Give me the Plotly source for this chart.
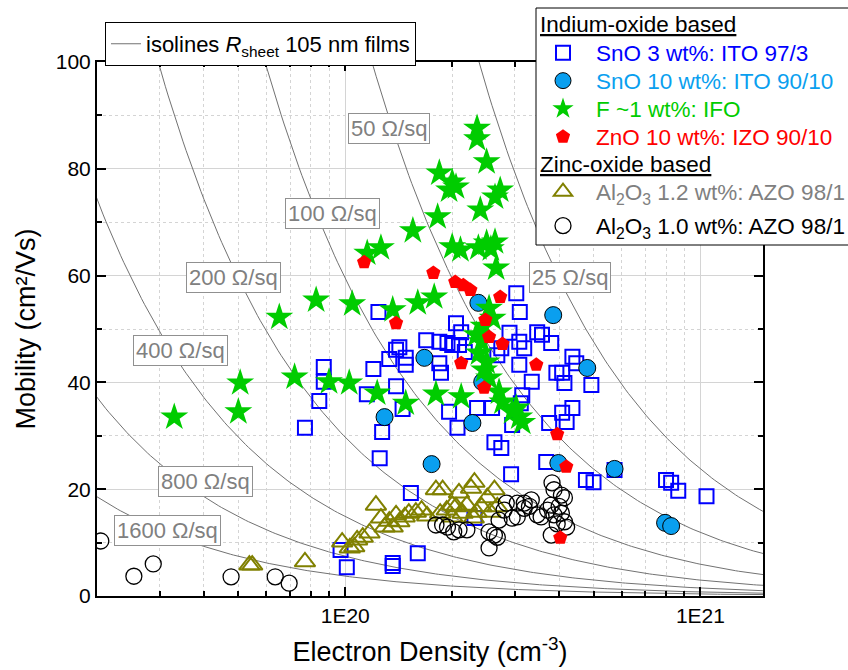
import numpy as np
import plotly.graph_objects as go

# ---------------- data (electron density in 1E20 cm^-3, mobility in cm^2/Vs) ----------------
ito_97_3 = [(0.77,31.5),(0.845,36.5),(0.87,40.1),(0.87,42.9),(1.15,37.8),(1.2,42.5),(1.24,53.2),(1.25,25.8),
            (1.27,30.7),(1.33,44.4),(1.39,39.3),(1.39,46.1),(1.42,46.6),(1.45,35.0),(1.48,44.6),(1.48,43.3),
            (1.53,19.3),(0.97,8.6),(1.01,5.4),(1.36,6.2),(1.36,5.6),(1.6,8.0),(1.69,47.9),(1.84,47.6),
            (1.94,47.4),(2.0,47.0),(1.84,43.6),(1.86,41.8),(2.05,51.1),(1.96,34.5),(2.07,31.5),(3.03,56.7),
            (3.1,53.2),(2.9,49.3),(3.09,47.6),(3.19,46.4),(3.47,49.4),(3.58,48.9),(3.8,47.4),(2.75,46.4),
            (2.68,45.1),(2.12,49.4),(2.09,47.0),(2.17,45.7),(3.09,43.3),(3.35,40.1),(3.93,41.8),(4.08,41.8),
            (4.14,39.9),(4.36,44.8),(4.47,43.6),(4.93,39.5),(3.15,37.6),(3.12,36.1),(2.35,35.2),(2.59,35.2),
            (2.95,32.0),(3.75,32.4),(4.08,34.3),(4.36,35.2),(4.2,32.6),(2.63,28.8),(2.75,27.7),(3.68,25.1),
            (2.93,22.8),(4.76,21.7),(5.0,21.3),(8.0,21.7),(8.27,21.2),(8.66,19.7),(10.4,18.7),(5.73,23.6),
            (2.31,14.6)]
ito_90_10 = [(1.29,33.5),(1.67,44.6),(2.37,54.9),(3.85,52.6),(4.8,42.7),(2.28,32.4),(2.43,40.1),(1.75,24.7),
             (3.98,24.9),(5.73,23.8),(7.95,13.7),(8.27,13.1)]
ifo = [(0.33,33.5),(0.506,39.9),(0.50,34.5),(0.652,52.2),(0.72,41.0),(0.828,55.4),(0.90,40.1),(1.026,39.9),
       (1.046,54.7),(1.153,64.2),(1.26,65.2),(1.23,38.0),(1.36,53.6),(1.48,36.1),(1.55,68.4),(1.6,54.9),
       (1.78,56.0),(1.8,37.8),(1.84,79.2),(1.96,76.0),(2.0,77.5),(1.82,71.0),(2.0,65.4),(2.35,87.6),
       (2.35,85.6),(2.5,81.3),(2.05,76.6),(2.73,76.0),(2.64,74.7),(2.4,72.3),(2.11,64.8),(2.37,65.2),
       (2.5,66.1),(2.64,66.3),(2.57,65.0),(2.66,61.4),(2.54,53.9),(2.34,48.9),(2.42,47.6),(2.38,45.5),
       (2.5,43.8),(2.46,42.3),(2.54,40.8),(2.71,38.2),(2.77,36.3),(3.09,33.5),(3.03,35.2),(2.12,37.3),
       (2.95,34.5),(3.15,32.5),(2.6,52.0),(2.45,50.5)]
izo = [(1.13,62.5),(1.39,51.1),(1.77,60.5),(2.04,58.8),(2.15,58.2),(2.25,57.3),(2.73,56.0),(2.48,51.7),
       (2.54,48.5),(2.77,47.2),(2.12,43.6),(3.45,43.3),(2.46,39.0),(3.95,30.3),(4.19,24.2),(4.03,10.9)]
azo_12 = [(0.537,5.8),(0.547,5.8),(0.77,6.4),(0.98,10.1),(1.03,9.0),(1.06,9.2),(1.08,10.5),(1.12,11.0),
          (1.17,11.8),(1.22,17.0),(1.26,14.6),(1.29,12.9),(1.36,12.9),(1.39,15.2),(1.42,13.9),(1.47,14.8),
          (1.51,15.5),(1.58,15.7),(1.64,16.1),(1.8,19.9),(1.88,19.9),(1.93,16.1),(2.0,17.0),(2.31,21.3),
          (2.26,20.2),(2.09,19.3),(2.63,19.9),(2.51,18.4),(2.05,16.7),(2.2,17.0),(2.42,16.7),(2.14,15.5),
          (2.34,15.7),(2.56,15.7),(2.68,16.7),(1.33,14.0),(1.7,15.0),(1.85,15.5),(2.0,14.8),(2.3,14.6)]
azo_10 = [(0.205,10.3),(0.254,3.7),(0.288,6.0),(0.477,3.6),(0.635,3.6),(0.695,2.4),(1.8,13.3),(1.88,13.3),
          (1.94,12.9),(2.02,12.0),(2.09,12.4),(2.2,12.4),(2.54,12.0),(2.68,11.0),(2.54,9.0),(2.71,14.2),
          (2.8,16.1),(2.95,14.6),(2.84,17.4),(3.05,17.4),(3.19,17.4),(3.34,18.0),(3.47,15.2),(3.71,16.1),
          (3.82,21.2),(3.87,19.9),(4.06,18.9),(4.14,18.4),(3.8,17.0),(3.87,15.2),(4.06,15.5),(4.14,13.9),
          (4.2,12.9),(3.8,11.4),(3.56,14.8),(3.19,16.4),(3.05,14.8),(2.63,11.4),(3.3,16.8),(4.0,16.8),
          (3.95,13.5)]

rsheet_values = [25, 50, 100, 200, 400, 800, 1600]      # Ohm/sq
film_thickness_nm = 105
label_n = [4.30, 1.33, 0.919, 0.483, 0.343, 0.403, 0.315]   # 1E20 cm^-3, label centres
label_mu = [59.6, 87.5, 71.7, 59.6, 45.9, 21.5, 12.2]

x_ticks = [1e20, 1e21]
x_ticktext = ["1E20", "1E21"]

SCALE = 1e20
Q = 1.602e-19
FONT = "Arial, Liberation Sans, sans-serif"

def xs(d):
    return [p[0] * SCALE for p in d]

def ys(d):
    return [p[1] for p in d]

# plot-area geometry (pixels) and helpers to place legend pieces
PLOT_L, PLOT_T, PLOT_W, PLOT_H = 97, 62, 666, 534
def px_x(p):
    return (p - PLOT_L) / PLOT_W
def px_y(p):
    return (PLOT_T + PLOT_H - p) / PLOT_H

fig = go.Figure()

# isolines
t_cm = film_thickness_nm * 1e-7
n_grid = np.logspace(19.0, 21.5, 300)
for i, R in enumerate(rsheet_values):
    fig.add_trace(go.Scatter(
        x=n_grid, y=1.0 / (Q * n_grid * R * t_cm), mode="lines",
        line=dict(color="#727272", width=1),
        name="isolines <i>R</i><sub>sheet</sub> 105 nm films",
        showlegend=(i == 0), legend="legend2", hoverinfo="skip"))

BLUE = "#0000FF"
CYAN = "#0A9FEF"
GREEN = "#00CC00"
RED = "#FF0000"
OLIVE = "#808000"
LEG = 22.5

fig.add_trace(go.Scatter(
    x=xs(ito_97_3), y=ys(ito_97_3), mode="markers", legend="legend3",
    marker=dict(symbol="square-open", size=14, color=BLUE, line=dict(width=2)),
    name=f"<span style='color:{BLUE}'>SnO 3 wt%: ITO 97/3</span>"))
fig.add_trace(go.Scatter(
    x=xs(ito_90_10), y=ys(ito_90_10), mode="markers", legend="legend4",
    marker=dict(symbol="circle", size=17, color=CYAN, line=dict(width=1, color="black")),
    name=f"<span style='color:{CYAN}'>SnO 10 wt%: ITO 90/10</span>"))
fig.add_trace(go.Scatter(
    x=xs(ifo), y=ys(ifo), mode="markers", legend="legend5",
    marker=dict(symbol="star", size=21, color=GREEN, line=dict(width=0)),
    name=f"<span style='color:{GREEN}'>F ~1 wt%: IFO</span>"))
fig.add_trace(go.Scatter(
    x=xs(azo_12), y=ys(azo_12), mode="markers", legend="legend7",
    marker=dict(symbol="triangle-up-open", size=18, color=OLIVE, line=dict(width=2)),
    name="<span style='color:#808080'>Al<sub>2</sub>O<sub>3</sub> 1.2 wt%: AZO 98/1</span>"))
fig.add_trace(go.Scatter(
    x=xs(azo_10), y=ys(azo_10), mode="markers", legend="legend8",
    marker=dict(symbol="circle-open", size=16, color="black", line=dict(width=1.3)),
    name="<span style='color:black'>Al<sub>2</sub>O<sub>3</sub> 1.0 wt%: AZO 98/1</span>"))
fig.add_trace(go.Scatter(
    x=xs(izo), y=ys(izo), mode="markers", legend="legend6",
    marker=dict(symbol="pentagon", size=15, color=RED, line=dict(width=0)),
    name=f"<span style='color:{RED}'>ZnO 10 wt%: IZO 90/10</span>"))

for R, ln, lm in zip(rsheet_values, label_n, label_mu):
    fig.add_annotation(x=np.log10(ln * SCALE), y=lm, xref="x", yref="y",
                       text=f"{R} Ω/sq", showarrow=False,
                       font=dict(family=FONT, size=22, color="#808080"),
                       bgcolor="white", bordercolor="#909090", borderwidth=1, borderpad=2)

# legend section headers
for txt, yc in (("Indium-oxide based", 24), ("Zinc-oxide based", 164)):
    fig.add_annotation(x=px_x(538), y=px_y(yc), xref="paper", yref="paper",
                       xanchor="left", yanchor="middle", showarrow=False,
                       text=f"<u>{txt}</u>", font=dict(family=FONT, size=LEG, color="black"))

# legend frame that runs off the right edge of the page (as in the original figure)
fig.add_shape(type="rect", xref="paper", yref="paper", layer="above",
              x0=px_x(536), x1=px_x(900), y0=px_y(245), y1=px_y(8),
              fillcolor="white", line=dict(color="black", width=1))

grid_minor_x = [float(m) * 10.0 ** e for e in (19, 20, 21) for m in range(2, 10)]

fig.update_xaxes(
    type="log", range=[np.log10(2e19), np.log10(1.5e21)],
    tickmode="array", tickvals=x_ticks, ticktext=x_ticktext,
    ticks="inside", ticklen=9, tickwidth=2, tickcolor="black",
    showline=True, linecolor="black", linewidth=2, mirror="allticks",
    showgrid=True, gridcolor="#d4d4d4", gridwidth=1,
    minor=dict(tickmode="array", tickvals=grid_minor_x, ticks="inside", ticklen=5,
               tickwidth=1.5, tickcolor="black", showgrid=True, gridcolor="#d4d4d4",
               griddash="dot", gridwidth=1),
    tickfont=dict(family=FONT, size=21, color="black"),
    title=dict(text="Electron Density (cm<sup>-3</sup>)", font=dict(family=FONT, size=27, color="black"),
               standoff=16),
    zeroline=False)
fig.update_yaxes(
    range=[0, 100], tickmode="linear", tick0=0, dtick=20,
    ticks="inside", ticklen=9, tickwidth=2, tickcolor="black",
    showline=True, linecolor="black", linewidth=2, mirror="allticks",
    showgrid=True, gridcolor="#d4d4d4", gridwidth=1,
    minor=dict(dtick=10, ticks="inside", ticklen=5, tickwidth=1.5, tickcolor="black",
               showgrid=True, gridcolor="#d4d4d4", griddash="dot", gridwidth=1),
    tickfont=dict(family=FONT, size=21, color="black"),
    title=dict(text="Mobility (cm²/Vs)", font=dict(family=FONT, size=27, color="black"), standoff=12),
    zeroline=False)

def item_legend(yc):
    return dict(x=px_x(530), y=px_y(yc), xanchor="left", yanchor="middle",
                bgcolor="rgba(0,0,0,0)", borderwidth=0, itemwidth=56,
                font=dict(family=FONT, size=LEG))

fig.update_layout(
    width=848, height=670,
    margin=dict(l=PLOT_L, r=85, t=PLOT_T, b=74, autoexpand=False),
    plot_bgcolor="white", paper_bgcolor="white",
    font=dict(family=FONT, size=22, color="black"),
    legend2=dict(x=0.012, y=1.075, xanchor="left", yanchor="top",
                 bgcolor="white", bordercolor="black", borderwidth=1,
                 font=dict(family=FONT, size=22)),
    legend3=item_legend(53),
    legend4=item_legend(81),
    legend5=item_legend(109),
    legend6=item_legend(137),
    legend7=item_legend(192),
    legend8=item_legend(226),
)

fig.write_html("out.html")
